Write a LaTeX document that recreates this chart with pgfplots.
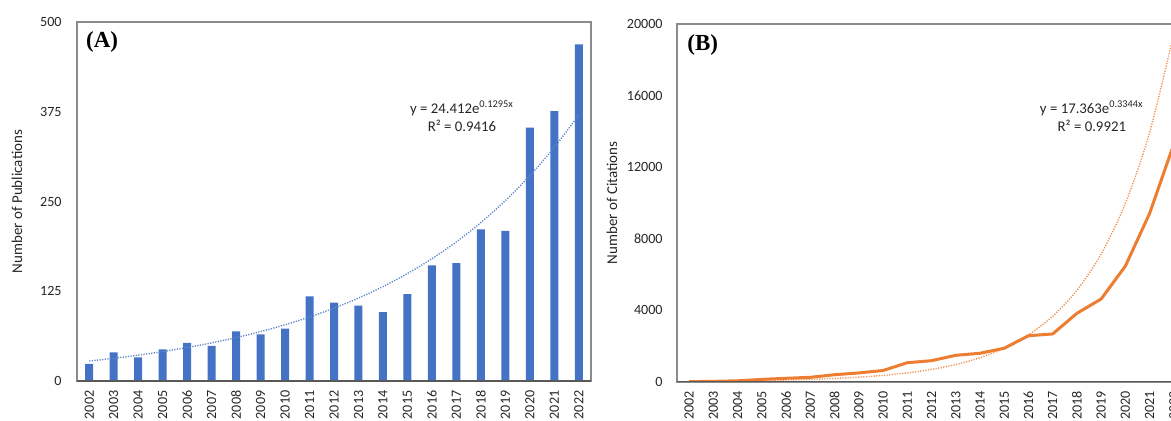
\documentclass[border=0pt]{standalone}
\usepackage{pgfplots}
\pgfplotsset{compat=1.18}
\usepackage{fontspec}
\setmainfont{Carlito}
\newfontfamily\tnr{Liberation Serif}
\definecolor{barblue}{HTML}{4472C4}
\definecolor{lineor}{HTML}{ED7D31}
\definecolor{framegray}{HTML}{8C8C8C}
\definecolor{axdark}{HTML}{595959}
\pgfplotsset{
  common/.style={
    scale only axis, anchor=south west,
    xtick={1,2,3,4,5,6,7,8,9,10,11,12,13,14,15,16,17,18,19,20,21},
    xticklabels={2002,2003,2004,2005,2006,2007,2008,2009,2010,2011,2012,2013,2014,2015,2016,2017,2018,2019,2020,2021,2022},
    tick style={draw=none},
    font=\fontsize{7.5pt}{9pt}\selectfont,
    tick label style={font=\fontsize{7.05pt}{8.5pt}\selectfont, text=black!85},
    xticklabel style={yshift=-4.6pt, rotate=90, anchor=east, inner sep=0pt},
    yticklabel style={xshift=-7.5pt, inner sep=0pt, anchor=east},
    /pgf/number format/assume math mode=true,
    /pgf/number format/1000 sep={},
    label style={text=black!85, font=\fontsize{7.5pt}{9pt}\selectfont},
  }
}
\begin{document}
\begin{tikzpicture}
\path[use as bounding box] (0,0) rectangle (585.5pt,210.5pt);
% Panel A
\begin{axis}[common,
  at={(38.5pt,20pt)}, width=257pt, height=179.5pt,
  xmin=0.5, xmax=21.5,
  ymin=0, ymax=500, ytick={0,125,250,375,500},
  axis line style={framegray, line width=0.6pt},
  ylabel={Number of Publications},
  ylabel style={at={(axis description cs:-0.1167,0.5)}, anchor=center},
  after end axis/.code={\draw[axdark, line width=0.7pt] (rel axis cs:0,0) -- (rel axis cs:1,0);},
]
\addplot[ybar, bar width=4pt, bar shift=0pt, fill=barblue, draw=none] coordinates {
(1,24) (2,40) (3,33) (4,44) (5,53) (6,49) (7,69) (8,65) (9,73) (10,118)
(11,109) (12,105) (13,96) (14,121) (15,161) (16,164) (17,211) (18,209) (19,353) (20,376) (21,469)};
\addplot[barblue!85, line width=0.7pt, dash pattern=on 0.6pt off 0.7pt, smooth] coordinates {
(1,27.79) (2,31.63) (3,36.00) (4,40.98) (5,46.65) (6,53.10) (7,60.44) (8,68.79) (9,78.30) (10,89.13)
(11,101.45) (12,115.48) (13,131.45) (14,149.62) (15,170.31) (16,193.85) (17,220.66) (18,251.17) (19,285.89) (20,325.42) (21,370.41)};
\node[font=\tnr\bfseries\fontsize{11.5pt}{12pt}\selectfont, anchor=west, inner sep=0pt] at (axis description cs:0.017,0.944) {(A)};
\node[align=center, font=\fontsize{7.4pt}{9pt}\selectfont, text=black!85] at (axis description cs:0.749,0.738) {y = 24.412e\textsuperscript{0.1295x}\\R² = 0.9416};
\end{axis}
% Panel B (extends past the right edge of the page, as in the reference)
\begin{axis}[common,
  at={(338.5pt,19.65pt)}, width=254.5pt, height=178.85pt,
  xmin=0.5, xmax=21.5,
  ymin=0, ymax=20000, ytick={0,4000,8000,12000,16000,20000},
  yticklabel style={xshift=0.5pt},
  scaled y ticks=false,
  axis line style={framegray, line width=0.9pt},
  ylabel={Number of Citations},
  ylabel style={at={(axis description cs:-0.1277,0.5)}, anchor=center},
  after end axis/.code={\draw[axdark, line width=0.8pt] (rel axis cs:0,0) -- (rel axis cs:1,0);},
]
\addplot[lineor!85, line width=0.7pt, dash pattern=on 0.6pt off 0.7pt, smooth] coordinates {
(1,24.26) (2,33.89) (3,47.35) (4,66.15) (5,92.42) (6,129.12) (7,180.40) (8,252.03) (9,352.12) (10,491.95)
(11,687.29) (12,960.24) (13,1341.55) (14,1874.28) (15,2618.56) (16,3658.38) (17,5111.2) (18,7140.8) (19,9976.4) (20,13938.0) (21,19472.9)};
\addplot[lineor, line width=1.5pt, line join=round] coordinates {
(1,0) (2,20) (3,50) (4,130) (5,190) (6,245) (7,390) (8,490) (9,625) (10,1060)
(11,1175) (12,1475) (13,1590) (14,1870) (15,2570) (16,2670) (17,3825) (18,4625) (19,6470) (20,9415) (21,13300)};
\node[font=\tnr\bfseries\fontsize{11.5pt}{12pt}\selectfont, anchor=west, inner sep=0pt] at (axis description cs:0.0196,0.941) {(B)};
\node[align=center, font=\fontsize{7.4pt}{9pt}\selectfont, text=black!85] at (axis description cs:0.815,0.743) {y = 17.363e\textsuperscript{0.3344x}\\R² = 0.9921};
\end{axis}
\end{tikzpicture}
\end{document}
